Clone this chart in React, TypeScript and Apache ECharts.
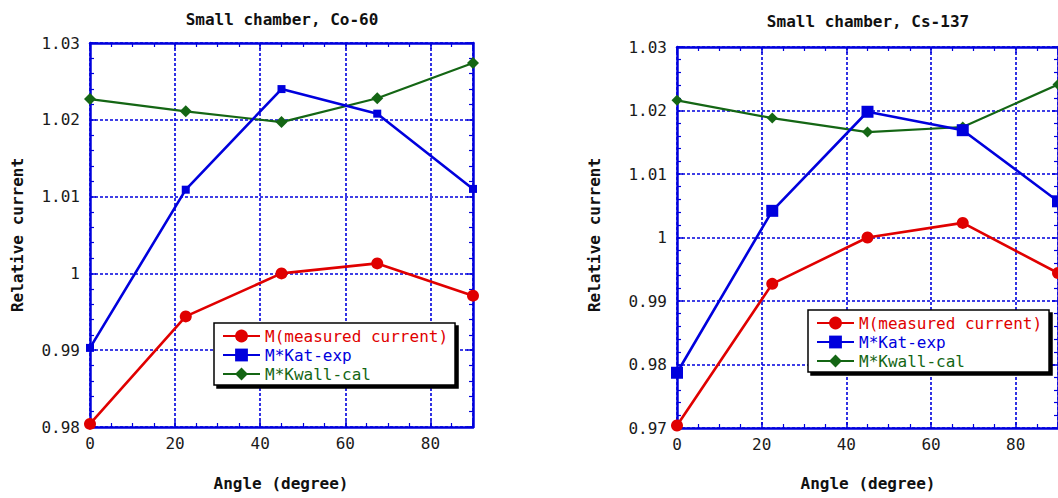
import React, { useEffect, useRef } from "react";
import * as echarts from "echarts";

const angles = [0, 22.5, 45, 67.5, 90];
const seriesNames = ["M(measured current)", "M*Kat-exp", "M*Kwall-cal"];

const coMeasured = [0.9804, 0.9944, 1.0, 1.0013, 0.9971];
const coKatExp = [0.9903, 1.0109, 1.024, 1.0208, 1.011];
const coKwallCal = [1.0227, 1.0211, 1.0197, 1.0228, 1.0274];

const csMeasured = [0.9704, 0.9927, 1.0, 1.0023, 0.9944];
const csKatExp = [0.9787, 1.0042, 1.0198, 1.0169, 1.0057];
const csKwallCal = [1.0216, 1.0188, 1.0166, 1.0174, 1.0241];

const titles = ["Small chamber, Co-60", "Small chamber, Cs-137"];
const xLabel = "Angle (degree)";
const yLabel = "Relative current";

const RED = "#e00000";
const BLUE = "#0000dd";
const GREEN = "#146614";
const MONO = "'DejaVu Sans Mono', 'Liberation Mono', monospace";

export default function App() {
  const ref = useRef<HTMLDivElement>(null);
  useEffect(() => {
    if (!ref.current) return;
    const chart = echarts.init(ref.current, undefined, { renderer: "svg" });

    const grids = [
      { left: 90, top: 43, width: 383, height: 384 },
      { left: 677, top: 47, width: 381, height: 381 },
    ];
    const yRanges = [
      { min: 0.98, max: 1.03 },
      { min: 0.97, max: 1.03 },
    ];

    const xAxes: any[] = [];
    const yAxes: any[] = [];
    grids.forEach((_, i) => {
      const common = {
        gridIndex: i,
        axisLine: { show: true, onZero: false, lineStyle: { color: BLUE, width: 2.5 } },
        axisTick: { show: true, inside: true, length: 6, lineStyle: { color: BLUE, width: 1.5 } },
        minorTick: { show: true, length: 4, lineStyle: { color: BLUE, width: 1.2 } },
      };
      xAxes.push({
        ...common,
        type: "value",
        min: 0,
        max: 90,
        interval: 20,
        position: "bottom",
        minorTick: { ...common.minorTick, splitNumber: 4 },
        axisLabel: {
          fontFamily: MONO,
          fontSize: 16,
          color: "#1a1a1a",
          margin: 8,
          showMaxLabel: false,
        },
        splitLine: { show: true, lineStyle: { color: BLUE, width: 1.6, type: [3, 2] } },
      });
      xAxes.push({
        ...common,
        type: "value",
        min: 0,
        max: 90,
        interval: 20,
        position: "top",
        minorTick: { ...common.minorTick, splitNumber: 4 },
        axisLabel: { show: false },
        splitLine: { show: false },
      });
      yAxes.push({
        ...common,
        type: "value",
        min: yRanges[i].min,
        max: yRanges[i].max,
        interval: 0.01,
        position: "left",
        minorTick: { ...common.minorTick, splitNumber: 5 },
        axisLabel: {
          fontFamily: MONO,
          fontSize: 16,
          color: "#1a1a1a",
          margin: 10,
          formatter: (v: number) => String(parseFloat(v.toFixed(2))),
        },
        splitLine: { show: true, lineStyle: { color: BLUE, width: 1.6, type: [3, 2] } },
      });
      yAxes.push({
        ...common,
        type: "value",
        min: yRanges[i].min,
        max: yRanges[i].max,
        interval: 0.01,
        position: "right",
        minorTick: { ...common.minorTick, splitNumber: 5 },
        axisLabel: { show: false },
        splitLine: { show: false },
      });
    });

    const dataSets = [
      [coMeasured, coKatExp, coKwallCal],
      [csMeasured, csKatExp, csKwallCal],
    ];
    const colors = [RED, BLUE, GREEN];
    const symbols = ["circle", "rect", "diamond"];
    const symbolSizes = [
      [12, 8, 12],
      [12, 12, 11],
    ];

    const series: any[] = [];
    dataSets.forEach((sets, gi) => {
      sets.forEach((vals, si) => {
        series.push({
          type: "line",
          name: seriesNames[si],
          xAxisIndex: gi * 2,
          yAxisIndex: gi * 2,
          data: angles.map((a, k) => [a, vals[k]]),
          symbol: symbols[si],
          symbolSize: symbolSizes[gi][si],
          showAllSymbol: true,
          clip: false,
          lineStyle: { color: colors[si], width: si === 2 ? 2.2 : 2.6 },
          itemStyle: { color: colors[si] },
          z: 5 + (2 - si),
        });
      });
    });

    const legendPos = [
      { left: 214, top: 323 },
      { left: 808, top: 310 },
    ];
    const legends = legendPos.map((p) => ({
      ...p,
      orient: "vertical",
      itemWidth: 37,
      itemHeight: 16,
      itemGap: 3,
      padding: [5, 7, 3, 8],
      backgroundColor: "#fff",
      borderColor: "#000",
      borderWidth: 1.5,
      borderRadius: 0,
      shadowColor: "#000",
      shadowBlur: 0,
      shadowOffsetX: 3,
      shadowOffsetY: 3,
      selectedMode: false,
      textStyle: { fontFamily: MONO, fontSize: 16, lineHeight: 16 },
      data: seriesNames.map((n, i) => ({ name: n, textStyle: { color: colors[i] } })),
    }));

    const graphic: any[] = [];
    const yLabelX = [17.5, 594];
    const xLabelX = [281, 868];
    const titleX = [282, 868];
    const titleY = [19, 21];
    [0, 1].forEach((i) => {
      graphic.push({
        type: "text",
        x: titleX[i],
        y: titleY[i],
        style: {
          text: titles[i],
          fontFamily: MONO,
          fontSize: 16,
          fontWeight: "bold",
          fill: "#111",
          align: "center",
          verticalAlign: "middle",
        },
      });
      graphic.push({
        type: "text",
        x: xLabelX[i],
        y: 483,
        style: {
          text: xLabel,
          fontFamily: MONO,
          fontSize: 16,
          fontWeight: "bold",
          fill: "#111",
          align: "center",
          verticalAlign: "middle",
        },
      });
      graphic.push({
        type: "text",
        x: yLabelX[i],
        y: 235,
        rotation: Math.PI / 2,
        style: {
          text: yLabel,
          fontFamily: MONO,
          fontSize: 16,
          fontWeight: "bold",
          fill: "#111",
          align: "center",
          verticalAlign: "middle",
        },
      });
    });

    chart.setOption({
      animation: false,
      backgroundColor: "#fff",
      grid: grids,
      xAxis: xAxes,
      yAxis: yAxes,
      legend: legends,
      series,
      graphic,
    });
    return () => chart.dispose();
  }, []);

  return (
    <div
      ref={ref}
      style={{ position: "fixed", left: 0, top: 0, width: 1058, height: 498 }}
    />
  );
}
